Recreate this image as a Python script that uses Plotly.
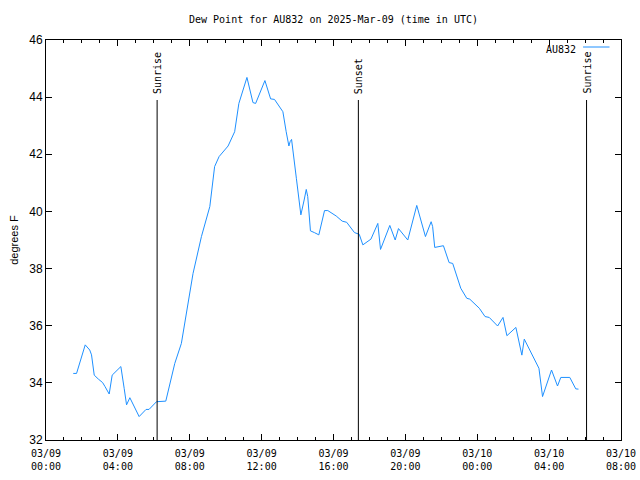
import plotly.graph_objects as go

times = [
    "2025-03-09 01:31", "2025-03-09 01:42", "2025-03-09 02:11", "2025-03-09 02:26", "2025-03-09 02:32",
    "2025-03-09 02:41", "2025-03-09 02:55", "2025-03-09 03:09", "2025-03-09 03:17", "2025-03-09 03:31",
    "2025-03-09 03:41", "2025-03-09 04:10", "2025-03-09 04:21", "2025-03-09 04:29", "2025-03-09 04:40",
    "2025-03-09 05:11", "2025-03-09 05:34", "2025-03-09 05:44", "2025-03-09 06:09", "2025-03-09 06:40",
    "2025-03-09 07:10", "2025-03-09 07:32", "2025-03-09 08:11", "2025-03-09 08:39", "2025-03-09 09:07",
    "2025-03-09 09:23", "2025-03-09 09:38", "2025-03-09 10:08", "2025-03-09 10:30", "2025-03-09 10:38",
    "2025-03-09 10:44", "2025-03-09 11:11", "2025-03-09 11:31", "2025-03-09 11:40", "2025-03-09 12:11",
    "2025-03-09 12:30", "2025-03-09 12:43", "2025-03-09 12:58", "2025-03-09 13:11", "2025-03-09 13:22",
    "2025-03-09 13:31", "2025-03-09 13:35", "2025-03-09 13:40", "2025-03-09 13:56", "2025-03-09 14:11",
    "2025-03-09 14:22", "2025-03-09 14:29", "2025-03-09 14:34", "2025-03-09 14:43", "2025-03-09 14:56",
    "2025-03-09 15:11", "2025-03-09 15:30", "2025-03-09 15:41", "2025-03-09 16:09", "2025-03-09 16:29",
    "2025-03-09 16:44", "2025-03-09 17:10", "2025-03-09 17:26", "2025-03-09 17:38", "2025-03-09 18:05",
    "2025-03-09 18:28", "2025-03-09 18:37", "2025-03-09 19:08", "2025-03-09 19:26", "2025-03-09 19:37",
    "2025-03-09 20:08", "2025-03-09 20:38", "2025-03-09 21:07", "2025-03-09 21:26", "2025-03-09 21:31",
    "2025-03-09 21:38", "2025-03-09 22:07", "2025-03-09 22:26", "2025-03-09 22:38", "2025-03-09 23:05",
    "2025-03-09 23:25", "2025-03-09 23:35", "2025-03-10 00:07", "2025-03-10 00:26", "2025-03-10 00:40",
    "2025-03-10 01:08", "2025-03-10 01:26", "2025-03-10 01:39", "2025-03-10 02:09", "2025-03-10 02:29",
    "2025-03-10 02:37", "2025-03-10 03:26", "2025-03-10 03:38", "2025-03-10 04:08", "2025-03-10 04:28",
    "2025-03-10 04:39", "2025-03-10 05:09", "2025-03-10 05:29", "2025-03-10 05:38",
]
dewpoint = [
    34.33, 34.33, 35.33, 35.15, 34.98,
    34.27, 34.13, 34.01, 33.87, 33.61,
    34.27, 34.57, 33.81, 33.23, 33.48,
    32.82, 33.07, 33.07, 33.34, 33.36,
    34.68, 35.38, 37.83, 39.12, 40.17,
    41.57, 41.92, 42.29, 42.79, 43.37,
    43.78, 44.69, 43.81, 43.78, 44.58,
    43.94, 43.92, 43.69, 43.49, 42.79,
    42.29, 42.44, 42.52, 41.16, 39.88,
    40.40, 40.77, 40.52, 39.32, 39.26,
    39.18, 40.03, 40.03, 39.84, 39.66,
    39.62, 39.26, 39.20, 38.83, 39.03,
    39.58, 38.67, 39.51, 39.00, 39.40,
    39.00, 40.21, 39.12, 39.64, 39.47,
    38.74, 38.80, 38.21, 38.18, 37.31,
    36.96, 36.93, 36.61, 36.32, 36.29,
    35.99, 36.29, 35.65, 35.94, 34.97,
    35.53, 34.51, 33.52, 34.45, 33.89,
    34.19, 34.19, 33.79, 33.78,
]

sun_times = ["2025-03-09 06:11", "2025-03-09 17:23", "2025-03-10 06:05"]
sun_labels = ["Sunrise", "Sunset", "Sunrise"]
sun_line_top = 43.9

x_range = ["2025-03-09 00:00", "2025-03-10 08:00"]
y_range = [32, 46]

station = "AU832"
title = "Dew Point for AU832 on 2025-Mar-09 (time in UTC)"
line_color = "#1E90FF"
mono = "DejaVu Sans Mono"

fig = go.Figure()
fig.add_trace(go.Scatter(x=times, y=dewpoint, mode="lines", name=station,
                         line=dict(color=line_color, width=1), showlegend=False))

for t, lab in zip(sun_times, sun_labels):
    fig.add_shape(type="line", xref="x", yref="y", x0=t, x1=t, y0=y_range[0], y1=sun_line_top,
                  line=dict(color="black", width=1))
    fig.add_annotation(x=t, y=sun_line_top, xref="x", yref="y", text=lab, textangle=-90,
                       showarrow=False, xanchor="center", yanchor="bottom", yshift=4,
                       font=dict(family=mono, size=10, color="black"))

# gnuplot-style key: text then line sample
fig.add_annotation(x=0.925, y=0.995, xref="paper", yref="paper", text=station, showarrow=False,
                   xanchor="right", yanchor="top", font=dict(family=mono, size=10, color="black"))
fig.add_shape(type="line", xref="paper", yref="paper", x0=0.934, x1=0.98, y0=0.9825, y1=0.9825,
              line=dict(color=line_color, width=1))

fig.update_layout(
    width=640, height=480,
    margin=dict(l=46, r=19, t=40, b=40),
    paper_bgcolor="white", plot_bgcolor="white",
    title=dict(text=title, x=0.5, xref="paper", y=0.96, yanchor="middle",
               font=dict(family=mono, size=10, color="black")),
    font=dict(family=mono, size=10, color="black"),
    xaxis=dict(type="date", range=x_range, showgrid=False, zeroline=False, automargin=False,
               showline=True, linecolor="black", linewidth=1, mirror="ticks",
               ticks="inside", ticklen=6, tickcolor="black",
               dtick=4 * 3600 * 1000, tick0="2025-03-09 00:00",
               tickformat="%m/%d<br>%H:%M", ticklabelstandoff=4,
               minor=dict(ticks="inside", ticklen=3, dtick=3600 * 1000, tickcolor="black", showgrid=False),
               tickfont=dict(family=mono, size=10)),
    yaxis=dict(range=y_range, showgrid=False, zeroline=False, automargin=False,
               showline=True, linecolor="black", linewidth=1, mirror="ticks",
               ticks="inside", ticklen=6, tickcolor="black", dtick=2,
               title=dict(text="degrees F", font=dict(family="Liberation Sans", size=11), standoff=8),
               tickfont=dict(family="Liberation Sans", size=12)),
)

fig.write_html("out.html")
